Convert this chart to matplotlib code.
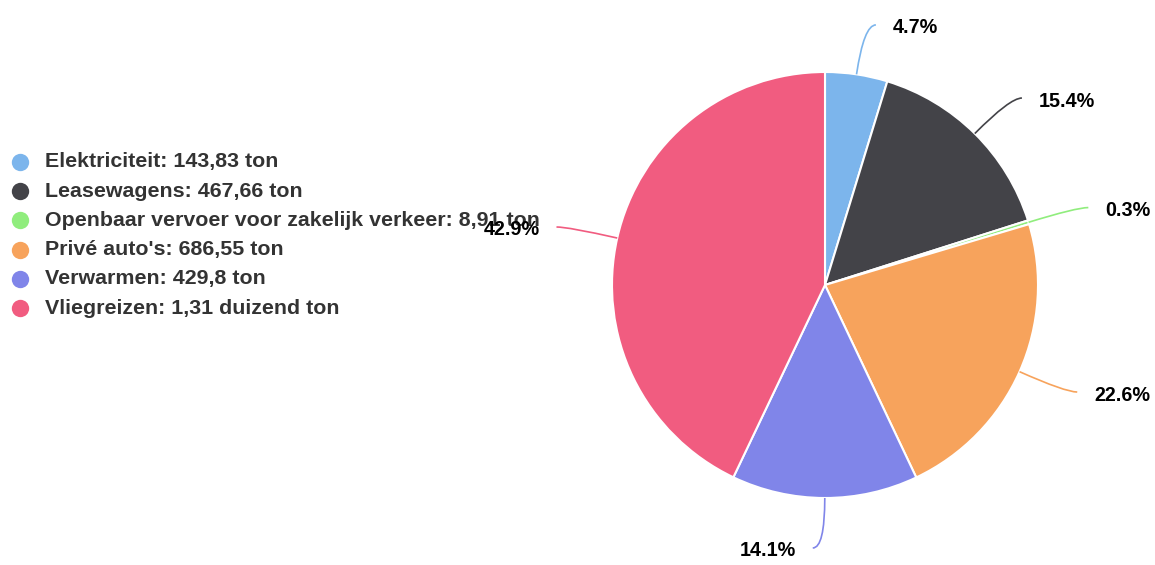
import matplotlib
matplotlib.use("Agg")
import matplotlib.pyplot as plt
from matplotlib.path import Path
from matplotlib.patches import PathPatch
import numpy as np

categories = ["Elektriciteit", "Leasewagens", "Openbaar vervoer voor zakelijk verkeer",
              "Privé auto's", "Verwarmen", "Vliegreizen"]
values = [143.83, 467.66, 8.91, 686.55, 429.8, 1306.0]
colors = ["#7cb5ec", "#434348", "#90ed7d", "#f7a35c", "#8085e9", "#f15c80"]

W, H = 1155, 565
CX, CY, R = 825, 285, 213  # pie centre/radius in pixels (layout)

plt.rcParams['font.family'] = ['Liberation Sans', 'DejaVu Sans']

fig = plt.figure(figsize=(W / 100, H / 100), dpi=100)
ax = fig.add_axes([0, 0, 1, 1])

def px(x, y):
    return ((x - CX) / R, (CY - y) / R)

ax.pie(values, colors=colors, startangle=90, counterclock=False, radius=1,
       wedgeprops=dict(edgecolor="white", linewidth=1.5))
ax.set_aspect('auto')
ax.set_xlim(-CX / R, (W - CX) / R)
ax.set_ylim((CY - H) / R, CY / R)
ax.axis('off')

total = sum(values)
cum = 0.0
dist = 50 / R
off = 12 / R
gap = 17 / R
for v, c in zip(values, colors):
    frac = v / total
    mid = (cum + frac / 2) * 360.0
    cum += frac
    a = np.deg2rad(mid)
    sx, sy = np.sin(a), np.cos(a)
    ex, ey = sx, sy                      # edge point
    ax_, ay_ = (1 + dist) * sx, (1 + dist) * sy  # anchor
    right = mid < 180
    endx = ax_ + (off if right else -off)
    endy = ay_
    path = Path([(ex, ey), (ax_, ay_), (endx, endy)],
                [Path.MOVETO, Path.CURVE3, Path.CURVE3])
    ax.add_patch(PathPatch(path, fill=False, edgecolor=c, lw=1.2))
    tx = endx + (gap if right else -gap)
    ax.text(tx, endy - 3 / R, f"{frac * 100:.1f}%", ha='left' if right else 'right',
            va='center', fontsize=14.2, fontweight='bold', color='black', zorder=5)

def fmt(v):
    if v >= 1000:
        s = f"{v / 1000:.2f}".rstrip('0').rstrip('.')
        return s.replace('.', ',') + " duizend ton"
    s = f"{v:.2f}".rstrip('0').rstrip('.')
    return s.replace('.', ',') + " ton"

for i, (cat, v, c) in enumerate(zip(categories, values, colors)):
    y = 162 + i * 29.2
    mx, my = px(20, y)
    ax.plot([mx], [my], marker='o', markersize=12.5, color=c, markeredgewidth=0)
    tx, ty = px(45, y)
    ax.text(tx, ty, f"{cat}: {fmt(v)}", ha='left', va='center', fontsize=15.4,
            fontweight='bold', color='#333333', zorder=4)

fig.savefig("out.png", dpi=100)
